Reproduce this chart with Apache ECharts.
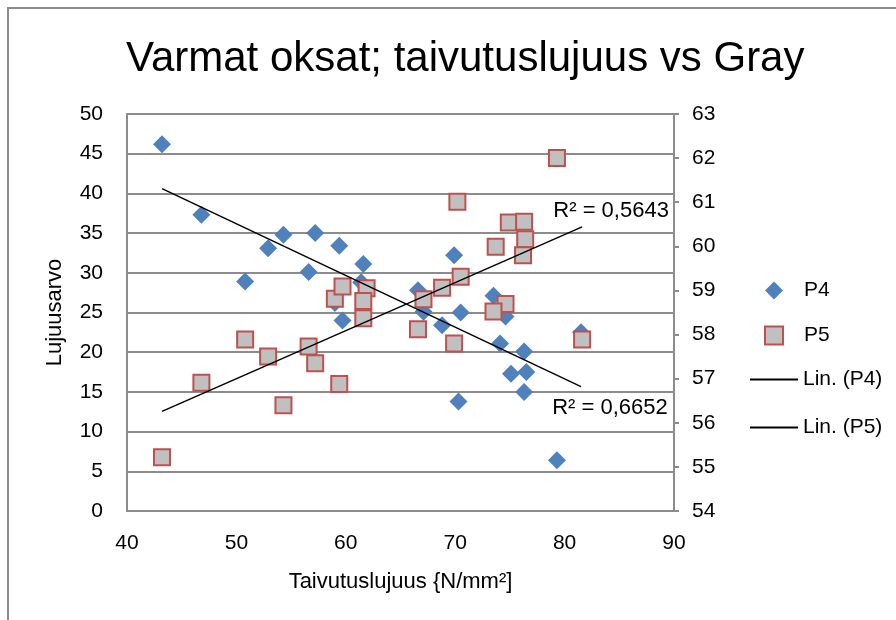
<!DOCTYPE html>
<html>
<head>
<meta charset="utf-8">
<script src="https://cdn.jsdelivr.net/npm/echarts@6/dist/echarts.min.js"></script>
<style>
  html, body { margin: 0; padding: 0; background: #fff; }
  #chart { width: 896px; height: 620px; }
</style>
</head>
<body>
<div id="chart"></div>
<script>
// data
var p4X = [43.2, 46.8, 50.8, 52.9, 54.3, 57.2, 56.6, 59.4, 61.6, 61.4, 59.0, 59.7, 66.6, 67.1,
           68.8, 69.9, 70.5, 73.5, 74.6, 74.1, 76.3, 75.1, 76.5, 76.3, 70.3, 79.3, 81.5];
var p4Y = [46.2, 37.3, 28.9, 33.1, 34.8, 35.0, 30.1, 33.4, 31.1, 28.8, 26.2, 24.0, 27.8, 25.1,
           23.4, 32.2, 25.0, 27.1, 24.5, 21.1, 20.1, 17.3, 17.5, 15.0, 13.8, 6.4, 22.5];

var p5X = [43.2, 46.8, 50.8, 52.9, 54.3, 56.6, 57.2, 59.4, 59.0, 59.7, 61.9, 61.6, 61.6, 79.3,
           70.2, 74.9, 76.3, 73.7, 76.4, 76.2, 70.5, 68.8, 67.1, 74.6, 73.5, 66.6, 69.9, 81.6];
var p5Y = [55.22, 56.91, 57.89, 57.50, 56.40, 57.73, 57.35, 56.88, 58.81, 59.09, 59.05, 58.76, 58.37, 62.0,
           61.01, 60.54, 60.56, 59.99, 60.16, 59.80, 59.31, 59.06, 58.80, 58.69, 58.52, 58.12, 57.80, 57.89];

var r2P4 = 'R² = 0,6652';
var r2P5 = 'R² = 0,5643';

function pairs(xs, ys) {
  return xs.map(function (x, i) { return [x, ys[i]]; });
}

// least squares line over the x range of the data
function trend(xs, ys) {
  var n = xs.length, sx = 0, sy = 0, sxx = 0, sxy = 0;
  for (var i = 0; i < n; i++) {
    sx += xs[i]; sy += ys[i]; sxx += xs[i] * xs[i]; sxy += xs[i] * ys[i];
  }
  var b = (n * sxy - sx * sy) / (n * sxx - sx * sx);
  var a = (sy - b * sx) / n;
  var x0 = Math.min.apply(null, xs), x1 = Math.max.apply(null, xs);
  return [[x0, a + b * x0], [x1, a + b * x1]];
}

var t4 = trend(p4X, p4Y);
var t5 = trend(p5X, p5Y);

var font = 'Liberation Sans';
var gray = '#8c8c8c';

var chart = echarts.init(document.getElementById('chart'));

var option = {
  animation: false,
  backgroundColor: '#fff',
  title: {
    text: 'Varmat oksat; taivutuslujuus vs Gray',
    left: 121,
    top: 33,
    textStyle: { fontFamily: font, fontSize: 42, fontWeight: 'normal', color: '#000' }
  },
  graphic: [{
    type: 'rect',
    shape: { x: 8, y: 8, width: 1000, height: 1000 },
    style: { fill: 'none', stroke: gray, lineWidth: 2 },
    silent: true
  }],
  legend: [{
    data: ['P4', 'P5'],
    orient: 'vertical',
    left: 764,
    top: 280,
    padding: 0,
    itemWidth: 18,
    itemHeight: 18,
    itemGap: 24,
    textStyle: { fontFamily: font, fontSize: 21, color: '#000', lineHeight: 18, padding: [0, 0, 0, 16] }
  }, {
    data: ['Lin. (P4)', 'Lin. (P5)'],
    orient: 'vertical',
    icon: 'rect',
    left: 750,
    top: 369,
    padding: 0,
    itemWidth: 48,
    itemHeight: 2,
    itemGap: 27,
    textStyle: { fontFamily: font, fontSize: 21, color: '#000', lineHeight: 18 }
  }],
  grid: { left: 127, right: 222, top: 114, bottom: 109 },
  xAxis: {
    type: 'value',
    min: 40, max: 90, interval: 10,
    name: 'Taivutuslujuus {N/mm²]',
    nameLocation: 'middle',
    nameGap: 60,
    nameTextStyle: { fontFamily: font, fontSize: 22, color: '#000' },
    axisLine: { show: true, lineStyle: { color: gray, width: 2 } },
    axisTick: { show: false },
    splitLine: { show: false },
    axisLabel: { fontFamily: font, fontSize: 21, color: '#000', margin: 22 }
  },
  yAxis: [{
    type: 'value',
    min: 0, max: 50, interval: 5,
    name: 'Lujuusarvo',
    nameLocation: 'middle',
    nameGap: 61,
    nameTextStyle: { fontFamily: font, fontSize: 22, color: '#000' },
    axisLine: { show: true, lineStyle: { color: gray, width: 2 } },
    axisTick: { show: false },
    splitLine: { show: true, lineStyle: { color: gray, width: 2 } },
    axisLabel: { fontFamily: font, fontSize: 21, color: '#000', margin: 24 }
  }, {
    type: 'value',
    position: 'right',
    min: 54, max: 63, interval: 1,
    axisLine: { show: true, lineStyle: { color: gray, width: 2 } },
    axisTick: { show: true, length: 5, lineStyle: { color: gray, width: 2 } },
    splitLine: { show: false },
    axisLabel: { fontFamily: font, fontSize: 21, color: '#000', margin: 18 }
  }],
  series: [{
    name: 'P4',
    type: 'scatter',
    yAxisIndex: 0,
    symbol: 'diamond',
    symbolSize: 18,
    itemStyle: { color: '#4f81bd', opacity: 1 },
    data: pairs(p4X, p4Y)
  }, {
    name: 'P5',
    type: 'scatter',
    yAxisIndex: 1,
    symbol: 'rect',
    symbolSize: 16,
    itemStyle: { color: '#c0c0c0', borderColor: '#c0504d', borderWidth: 2, opacity: 1 },
    data: pairs(p5X, p5Y)
  }, {
    name: 'Lin. (P4)',
    type: 'line',
    yAxisIndex: 0,
    showSymbol: false,
    symbol: 'none',
    itemStyle: { color: '#000' },
    lineStyle: { color: '#000', width: 1.5 },
    data: t4,
    z: 5
  }, {
    name: 'Lin. (P5)',
    type: 'line',
    yAxisIndex: 1,
    showSymbol: false,
    symbol: 'none',
    itemStyle: { color: '#000' },
    lineStyle: { color: '#000', width: 1.5 },
    data: t5,
    z: 5
  }, {
    name: 'r2a',
    type: 'scatter',
    yAxisIndex: 0,
    symbolSize: 0,
    silent: true,
    data: [t4[1]],
    label: { show: true, position: 'bottom', distance: 5, offset: [29, 5], formatter: r2P4,
             fontFamily: font, fontSize: 22, color: '#000', opacity: 1 },
    z: 6
  }, {
    name: 'r2b',
    type: 'scatter',
    yAxisIndex: 1,
    symbolSize: 0,
    silent: true,
    data: [t5[1]],
    label: { show: true, position: 'top', distance: 5, offset: [29, 0], formatter: r2P5,
             fontFamily: font, fontSize: 22, color: '#000', opacity: 1 },
    z: 6
  }]
};

chart.setOption(option);
</script>
</body>
</html>
